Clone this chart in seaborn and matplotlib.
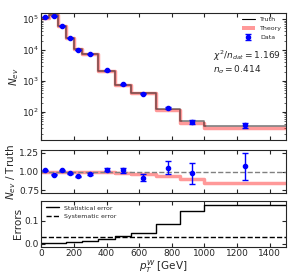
import numpy as np
import pandas as pd
import seaborn as sns
import matplotlib
matplotlib.use("Agg")
import matplotlib.pyplot as plt
from matplotlib.patches import Patch
from matplotlib.lines import Line2D

# bin edges in pT^W [GeV]
edges = [0, 50, 100, 150, 200, 250, 350, 450, 550, 700, 850, 1000, 1500]
truth = [1.11e5, 1.33e5, 6.0e4, 2.49e4, 1.10e4, 7.6e3, 2.14e3, 7.75e2, 4.24e2, 1.28e2, 50, 35.5]
data = [1.13e5, 1.28e5, 6.1e4, 2.44e4, 1.03e4, 7.4e3, 2.2e3, 7.9e2, 3.9e2, 1.35e2, 49, 38]
theory_ratio = [1.0, 1.0, 0.995, 0.995, 0.99, 0.99, 0.99, 0.98, 0.965, 0.94, 0.905, 0.856]
stat_err = [0.003, 0.0027, 0.004, 0.0063, 0.0095, 0.0115, 0.0216, 0.036, 0.049, 0.086, 0.143, 0.17]
sys_err = [0.03] * 12
chi2_label = r'$\chi^2/n_{dat} = 1.169$'
nsig_label = r'$n_\sigma = 0.414$'

sns.set_style("ticks")
plt.rcParams['font.family'] = ['DejaVu Sans']
plt.rcParams['mathtext.fontset'] = 'dejavusans'

edges = np.array(edges, dtype=float)
centers = 0.5 * (edges[1:] + edges[:-1])
truth = np.array(truth)
data = np.array(data)
theory = truth * np.array(theory_ratio)
stat_err = np.array(stat_err)
data_err = data * stat_err


def stepvals(v):
    return np.append(v, v[-1])


fig = plt.figure(figsize=(2.91, 2.79), dpi=100)
ax1 = fig.add_axes([0.142, 0.498, 0.841, 0.455])
ax2 = fig.add_axes([0.142, 0.3065, 0.841, 0.156])
ax3 = fig.add_axes([0.142, 0.1158, 0.841, 0.164])

# main panel
ax1.step(edges, stepvals(theory), where='post', color='red', alpha=0.4, lw=2.5)
df_t = pd.DataFrame({'x': edges, 'y': stepvals(truth)})
sns.lineplot(data=df_t, x='x', y='y', ax=ax1, drawstyle='steps-post', color='black', alpha=0.5, lw=1.2)
ax1.errorbar(centers, data, yerr=data_err, fmt='o', color='blue', ms=3, capsize=2, elinewidth=1)
ax1.set_yscale('log')
ax1.set_ylim(12.5, 1.56e5)
ax1.set_xlim(0, 1500)
ax1.set_xticklabels([])
ax1.set_xlabel('')
ax1.set_ylabel(r'$N_{ev}$', fontsize=7.5, labelpad=1)
handles = [Line2D([], [], color='black', lw=0.8),
           Patch(color='red', alpha=0.4, lw=0),
           ax1.containers[0] if ax1.containers else Line2D([], [], color='blue', marker='o')]
ax1.legend(handles, ['Truth', 'Theory', 'Data'], loc='upper right', fontsize=4.5, frameon=False,
           handlelength=2.2, labelspacing=0.6, borderaxespad=0.2)
ax1.text(0.70, 0.664, chi2_label, transform=ax1.transAxes, fontsize=6.5, va='center')
ax1.text(0.70, 0.55, nsig_label, transform=ax1.transAxes, fontsize=6.5, va='center')

# ratio panel
ax2.step(edges, stepvals(theory / truth), where='post', color='red', alpha=0.4, lw=2.5)
ax2.axhline(1.0, color='grey', ls='--', lw=1)
ax2.errorbar(centers, data / truth, yerr=data_err / truth, fmt='o', color='blue', ms=3, capsize=2, elinewidth=1)
ax2.set_xlim(0, 1500)
ax2.set_ylim(0.71, 1.29)
ax2.set_yticks([0.75, 1.0, 1.25])
ax2.set_xticklabels([])
ax2.set_ylabel(r'$N_{ev}$ / Truth', fontsize=7.5, labelpad=1)

# error panel
df_e = pd.DataFrame({'x': edges, 'stat': stepvals(stat_err), 'sys': stepvals(np.array(sys_err))})
sns.lineplot(data=df_e, x='x', y='stat', ax=ax3, drawstyle='steps-post', color='black', lw=1, label='Statistical error')
sns.lineplot(data=df_e, x='x', y='sys', ax=ax3, drawstyle='steps-post', color='black', lw=1, ls='--', label='Systematic error')
ax3.set_xlim(0, 1500)
ax3.set_ylim(-0.012, 0.187)
ax3.set_yticks([0.0, 0.1])
ax3.set_ylabel('Errors', fontsize=7.5, labelpad=1)
ax3.set_xlabel(r'$p_T^W$ [GeV]', fontsize=7.5, labelpad=0)
ax3.legend(loc='upper left', fontsize=4.5, frameon=False, handlelength=2.2, labelspacing=0.5, borderaxespad=0.3)

for ax in (ax1, ax2, ax3):
    ax.tick_params(direction='in', top=True, right=True, labelsize=6.5, length=3, width=0.8, pad=1.5)
    ax.tick_params(which='minor', direction='in', top=True, right=True, length=1.5, width=0.5)
    for s in ax.spines.values():
        s.set_linewidth(0.8)
ax3.set_xticks([0, 200, 400, 600, 800, 1000, 1200, 1400])

fig.savefig('out.png', dpi=100)
